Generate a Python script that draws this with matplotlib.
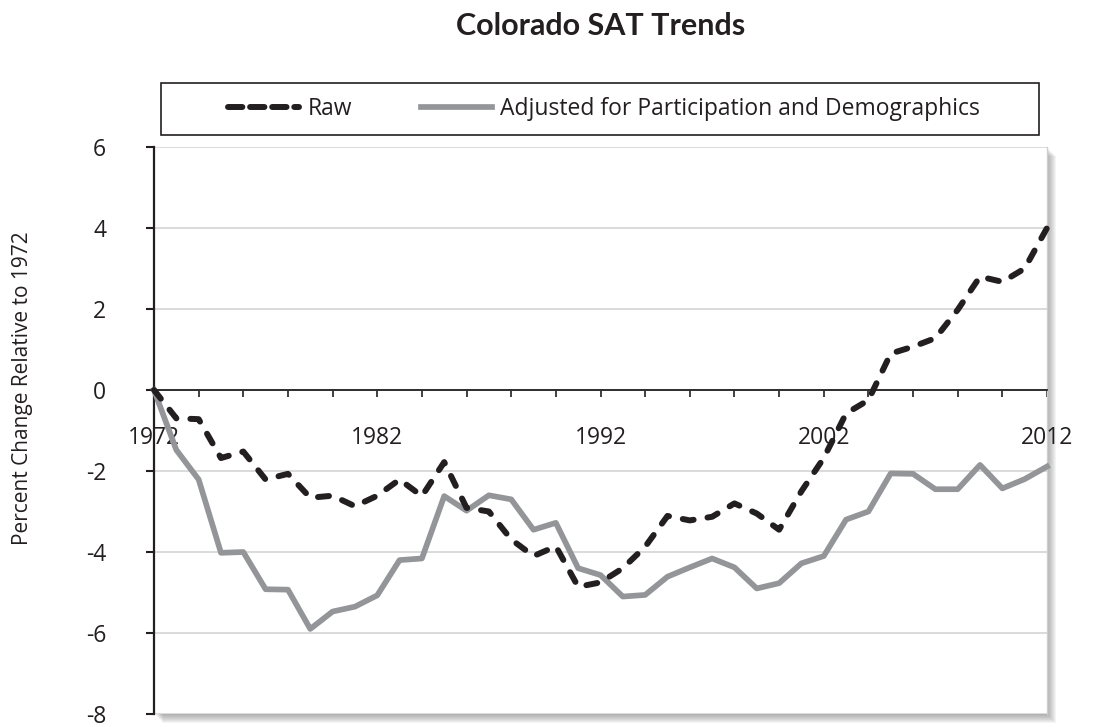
import matplotlib
matplotlib.use("Agg")
import matplotlib.pyplot as plt
from matplotlib.patches import Rectangle
from matplotlib.lines import Line2D

plt.rcParams['font.family'] = ['Open Sans', 'DejaVu Sans']
plt.rcParams['axes.unicode_minus'] = False

years = list(range(1972, 2013))
raw = [0, -0.70, -0.72, -1.68, -1.52, -2.21, -2.07, -2.66, -2.61, -2.87,
       -2.61, -2.21, -2.62, -1.78, -2.91, -3.00, -3.69, -4.10, -3.86, -4.86,
       -4.75, -4.40, -3.87, -3.11, -3.22, -3.13, -2.80, -3.05, -3.45, -2.50,
       -1.68, -0.58, -0.25, 0.90, 1.07, 1.28, 1.98, 2.80, 2.67, 3.00, 4.00]
adjusted = [0, -1.48, -2.21, -4.02, -4.00, -4.92, -4.93, -5.90, -5.47, -5.35,
            -5.07, -4.20, -4.16, -2.62, -2.98, -2.60, -2.70, -3.45, -3.28, -4.40,
            -4.57, -5.10, -5.06, -4.61, -4.38, -4.16, -4.38, -4.90, -4.77, -4.28,
            -4.10, -3.20, -3.00, -2.06, -2.07, -2.45, -2.45, -1.85, -2.43, -2.20, -1.89]
x_labels = [1972, 1982, 1992, 2002, 2012]
y_ticks = [-8, -6, -4, -2, 0, 2, 4, 6]

W, H = 1093, 727
txt = '#231f20'
gray = '#939598'

fig = plt.figure(figsize=(W / 100, H / 100), dpi=100)
fig.patch.set_facecolor('white')

# plot area in pixels
x0, x1, y0, y1 = 154, 1047, 147, 714
ax = fig.add_axes([x0 / W, 1 - y1 / H, (x1 - x0) / W, (y1 - y0) / H])
ax.set_zorder(2)

# soft shadow behind plot area
for off in range(1, 10):
    fig.patches.append(Rectangle(((x0 + off) / W, 1 - (y1 + off) / H), (x1 - x0) / W, (y1 - y0) / H,
                                 transform=fig.transFigure, facecolor='#6e6e6e', edgecolor='none',
                                 alpha=0.075, zorder=-1))

ax.plot(years, adjusted, color=gray, lw=4.1, solid_joinstyle='round', clip_on=False, zorder=3)
ax.plot(years, raw, color=txt, lw=4.3, dashes=(1.85, 2.35), dash_capstyle='round',
        dash_joinstyle='round', clip_on=False, zorder=4)

ax.set_xlim(1972, 2012)
ax.set_ylim(-8, 6)
ax.set_yticks(y_ticks)
ax.set_yticklabels([str(v) for v in y_ticks])
ax.set_xticks(list(range(1972, 2013, 2)))
ax.set_xticklabels([str(y) if y in x_labels else '' for y in range(1972, 2013, 2)])

ax.yaxis.grid(True, color='#d4d4d4', lw=1.2)
ax.set_axisbelow(True)

ax.spines['top'].set_visible(False)
ax.spines['right'].set_color('#cfcfcf')
ax.spines['right'].set_linewidth(1.0)
ax.spines['left'].set_color(txt)
ax.spines['left'].set_linewidth(1.6)
ax.spines['bottom'].set_position(('data', 0))
ax.spines['bottom'].set_color(txt)
ax.spines['bottom'].set_linewidth(1.3)

ax.tick_params(axis='y', direction='out', length=5.5, width=1.5, color=txt,
               labelsize=16.5, labelcolor=txt, pad=29)
ax.tick_params(axis='x', direction='out', length=5, width=1.2, color=txt,
               labelsize=16.5, labelcolor=txt, pad=21)

fig.text(23 / W, 1 - 388 / H, 'Percent Change Relative to 1972', rotation=90,
         ha='center', va='center', fontsize=15, color=txt)

fig.text(601 / W, 1 - 26 / H, 'Colorado SAT Trends', ha='center', va='center',
         fontsize=22, fontweight='bold', color=txt, family=['Lato', 'DejaVu Sans'])

# legend box
fig.patches.append(Rectangle((161 / W, 1 - 135 / H), 878 / W, 52 / H, transform=fig.transFigure,
                             facecolor='white', edgecolor=txt, lw=1.2, zorder=1))
handles = [Line2D([], [], color=txt, lw=4.3, dashes=(2.4, 1.3), dash_capstyle='round'),
           Line2D([], [], color=gray, lw=4.1)]
fig.legend(handles, ['Raw', 'Adjusted for Participation and Demographics'], loc='center',
           bbox_to_anchor=(604 / W, 1 - 109 / H), ncol=2, frameon=False, fontsize=16.5,
           handlelength=3.1, handletextpad=0.35, columnspacing=3.0, labelcolor=txt)

fig.savefig('out.png', dpi=100)
